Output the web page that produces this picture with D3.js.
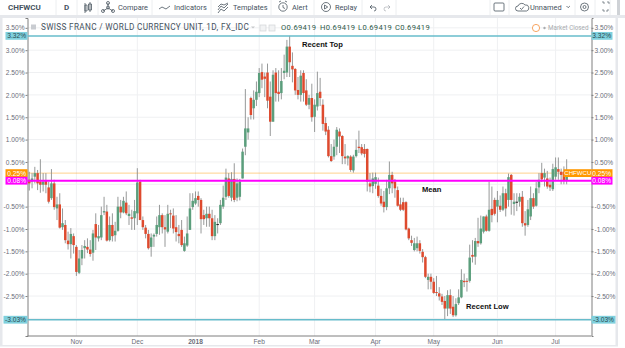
<!DOCTYPE html>
<html>
<head>
<meta charset="utf-8">
<script src="https://cdn.jsdelivr.net/npm/d3@7/dist/d3.min.js"></script>
<style>
html,body{margin:0;padding:0;background:#fff;overflow:hidden}
svg{display:block;font-family:Roboto,"Liberation Sans",sans-serif}
</style>
</head>
<body>
<svg id="chart" width="625" height="348"></svg>
<script>
// Daily candles, CHF against the World Currency Unit, % change scale
const open = [
 .10,.06,.17,.25,.06,-.01,.08,-.07,-.31,.02,
 -.54,-.45,-.96,-.91,-1.26,-1.34,-1.16,-1.40,-1.98,-1.66,
 -1.43,-1.40,-1.46,-1.53,-.89,-1.21,-1.19,-.63,-.61,-1.25,
 -.91,-1.14,-1.04,-.50,-.63,-.41,-.71,-.74,-.76,-.65,
 .06,-.80,-.97,-1.11,-1.40,-1.17,-1.11,-.96,-.69,-.96,
 -1.06,-.65,-.70,-.96,-1.11,-1.02,-1.49,-1.37,-1.02,-.51,
 -.43,-.26,-.35,-.69,-.76,-.66,-.76,-1.16,-.89,-.87,
 -.50,-.28,.13,-.30,.12,-.30,-.28,.13,.84,1.16,
 1.93,1.70,1.89,2.04,2.51,2.41,2.50,1.96,1.40,2.50,
 2.07,2.04,2.49,2.50,3.08,2.65,2.58,2.11,2.00,2.49,
 2.10,1.78,1.93,1.51,1.74,2.07,1.78,1.37,1.22,.63,
 .62,.84,1.18,1.08,.62,.58,.62,.31,.63,.84,
 .83,.79,.79,.02,-.04,.01,-.03,-.26,-.39,-.51,
 -.09,.21,.06,-.13,-.45,-.40,-.40,-.99,-1.25,-1.47,
 -1.43,-1.32,-1.51,-1.63,-2.14,-2.07,-2.18,-2.41,-2.44,-2.51,
 -2.61,-2.78,-2.48,-2.74,-2.93,-2.66,-2.53,-2.16,-2.16,-2.16,
 -1.58,-1.62,-1.27,-1.32,-1.06,-.72,-1.04,-.55,-.35,-.50,
 -.48,-.57,-.20,-.35,.21,-.44,-.39,-.39,-.28,-.87,
 -.91,-.72,-.31,-.48,-.07,.25,.15,.13,-.01,-.11,
 .17,.34,.28,.28,.08
];
const close = [
 .02,.13,.25,.02,-.01,.06,-.01,-.39,.02,-.51,
 -.45,-.97,-.87,-1.25,-1.34,-1.11,-1.36,-1.96,-1.66,-1.47,
 -1.38,-1.46,-1.56,-1.10,-1.19,-1.16,-.69,-.60,-1.26,-.91,
 -1.16,-1.04,-.50,-.63,-.37,-.65,-.66,-.77,-.60,.04,
 -.80,-.96,-1.11,-1.43,-1.19,-1.13,-.91,-.69,-.96,-1.01,
 -.66,-.67,-.99,-1.07,-1.16,-1.36,-1.32,-1.10,-.54,-.37,
 -.31,-.35,-.78,-.78,-.66,-.76,-1.16,-.84,-.90,-.46,
 -.30,.15,-.26,.12,-.35,.02,.06,.73,1.25,1.25,
 1.55,1.89,2.07,2.49,2.34,2.36,1.87,1.40,2.45,2.04,
 2.02,2.31,2.54,3.08,2.73,2.57,2.10,2.00,2.43,2.04,
 1.78,1.93,1.50,1.78,2.04,1.93,1.35,1.18,.63,.52,
 .84,1.22,1.07,.63,.58,.63,.32,.62,.77,.81,
 .69,.68,.06,-.05,.13,.16,-.26,-.43,-.51,-.09,
 .21,.02,-.09,-.48,-.57,-.57,-1.01,-1.21,-1.31,-1.32,
 -1.32,-1.49,-1.63,-2.07,-2.07,-2.18,-2.43,-2.43,-2.51,-2.63,
 -2.78,-2.48,-2.78,-2.93,-2.68,-2.53,-2.14,-2.19,-2.18,-1.64,
 -1.62,-1.27,-1.32,-.99,-.72,-1.04,-.57,-.69,-.66,-.35,
 -.57,-.20,-.54,.16,-.35,-.39,-.40,-.28,-.87,-.92,
 -.56,-.31,-.50,-.09,.10,.11,.25,-.05,-.07,.34,
 .38,.28,.21,.08,.25
];
const high = [
 .28,.25,.39,.32,.56,.25,.25,.06,.34,.10,
 -.28,-.20,-.54,-.80,-1.06,-.98,-1.10,-1.36,-1.47,-1.36,
 -1.25,-1.21,-1.25,-1.02,-.65,-.91,-.50,-.28,-.46,-.72,
 -.65,-.84,-.28,-.35,-.28,-.16,-.46,-.57,-.35,.36,
 .10,-.72,-.91,-1.02,-1.10,-1.10,-.72,-.46,-.65,-.69,
 -.46,-.57,-.54,-.69,-.91,-.80,-1.17,-.72,-.20,-.20,
 -.16,-.16,-.31,-.57,-.50,-.50,-.57,-.69,-.76,-.35,
 -.03,.35,.25,.27,.47,.13,.12,.80,2.13,1.50,
 1.96,2.10,2.30,2.60,2.70,2.50,2.70,2.30,2.55,2.60,
 2.55,2.60,2.90,3.23,3.32,2.95,2.60,2.40,2.55,2.55,
 2.35,2.00,2.25,1.90,2.52,2.38,1.90,1.50,1.30,.90,
 1.00,1.28,1.25,1.10,.90,.65,.65,.66,1.00,1.20,
 .90,.90,.80,.25,.26,.26,.15,-.10,-.15,.10,
 .51,.28,.12,-.05,-.30,-.30,-.38,-.97,-1.15,-1.20,
 -1.17,-1.25,-1.45,-1.60,-2.00,-2.00,-2.10,-2.05,-2.30,-2.45,
 -2.50,-2.37,-2.35,-2.50,-2.55,-2.35,-1.90,-2.00,-2.10,-1.35,
 -1.25,-1.20,-.75,-.70,-.72,-.68,.06,-.05,-.30,-.15,
 -.25,-.05,-.10,.24,.23,-.20,-.20,-.20,-.15,-.60,
 -.35,-.05,-.20,.05,.25,.48,.35,.30,.15,.46,
 .60,.60,.35,.40,.56
];
const low = [
 -.14,-.09,.02,-.13,-.19,-.16,-.20,-.43,-.35,-.57,
 -.80,-.99,-1.02,-1.32,-1.46,-1.66,-1.55,-2.05,-2.01,-1.81,
 -1.66,-1.54,-1.62,-1.71,-1.47,-1.28,-1.25,-.69,-1.28,-1.28,
 -1.28,-1.28,-1.06,-.76,-.65,-.69,-.91,-1.02,-1.02,-.91,
 -.80,-1.02,-1.21,-1.46,-1.62,-1.40,-1.17,-1.13,-1.10,-1.40,
 -1.10,-.98,-1.10,-1.28,-1.32,-1.40,-1.51,-1.40,-1.02,-.57,
 -.46,-.50,-1.10,-.91,-.95,-.95,-1.25,-1.25,-1.10,-.91,
 -.55,-.35,-.30,-.38,-.40,-.38,-.36,.13,.65,1.00,
 1.45,1.45,1.75,1.95,2.15,1.95,1.70,1.08,1.40,1.85,
 1.85,1.90,2.35,2.40,2.40,2.28,2.00,1.90,1.85,1.85,
 1.75,1.68,1.40,1.17,1.65,1.75,1.20,1.10,.60,.50,
 .55,.65,.70,.45,.45,.42,.28,.26,.60,.70,
 .65,.60,-.16,-.18,-.20,-.10,-.30,-.48,-.63,-.58,
 -.22,-.20,-.30,-.50,-.60,-.60,-1.03,-1.25,-1.38,-1.50,
 -1.50,-1.55,-1.75,-2.10,-2.35,-2.35,-2.45,-2.50,-2.60,-2.70,
 -3.03,-2.95,-2.90,-2.97,-2.96,-2.70,-2.55,-2.30,-2.40,-2.20,
 -1.75,-1.80,-1.40,-1.35,-1.10,-1.06,-1.06,-.85,-.70,-.85,
 -.62,-.60,-.72,-.50,-.68,-.70,-.60,-.50,-.95,-1.15,
 -.95,-.80,-.55,-.50,-.20,.05,-.05,-.10,-.15,-.15,
 .10,.10,.00,.00,.00
];

const firstDay = "2017-10-09", endDay = "2018-07-07";
const monthTicks = ["2017-11-01","2017-12-01","2018-01-01","2018-02-01","2018-03-01","2018-04-02","2018-05-01","2018-06-01","2018-07-02"];
const monthLabels = ["Nov","Dec","2018","Feb","Mar","Apr","May","Jun","Jul"];
const pctTicks = [3.5,3,2.5,2,1.5,1,.5,-.5,-1,-1.5,-2,-2.5];
const gridPct = [3.5,3,2.5,2,1.5,1,.5,0,-.5,-1,-1.5,-2,-2.5,-3];
const recentTop = 3.32, recentLow = -3.03, mean = 0.08;
const symbol = "CHFWCU";
const title = "SWISS FRANC / WORLD CURRENCY UNIT, 1D, FX_IDC";
const ohlcValue = "0.69419";

const fmtDay = d3.utcFormat("%Y-%m-%d");
const days = d3.utcDay.range(new Date(firstDay), new Date(endDay))
  .filter(d => d.getUTCDay() % 6 !== 0).map(fmtDay);
const candles = days.map((d, i) => ({d, o: open[i], c: close[i], h: high[i], l: low[i]}));
const last = close[close.length - 1];

const plot = {left: 27.5, right: 591.5, top: 18, bottom: 336};
const x = d3.scaleBand().domain(days).range([27.9, 568.05]);
const y = d3.scaleLinear().domain([-3.394, 3.72]).range([plot.bottom, plot.top]);
const pct = v => v.toFixed(2) + "%";
const cx = d => x(d) + x.bandwidth() / 2;

const svg = d3.select("#chart");
const UP = "#5b9e7c", DOWN = "#de4a2e", TEAL = "#67bccb", TEALBOX = "#7fd0dd",
      ORANGE = "#ff9800", MAGENTA = "#ff00ff", AXIS = "#7f7f7f", GRID = "#eff0f2", TICKTXT = "#6a6d78";

// window frame
svg.append("rect").attr("x",0).attr("y",15).attr("width",625).attr("height",3).attr("fill","#e6e8ec");
svg.append("rect").attr("x",0).attr("y",15).attr("width",2.5).attr("height",331).attr("fill","#e6e8ec");
svg.append("rect").attr("x",615.5).attr("y",15).attr("width",2.5).attr("height",331).attr("fill","#e6e8ec");
svg.append("rect").attr("x",0).attr("y",345).attr("width",618).attr("height",1.5).attr("fill","#e6e8ec");
svg.append("rect").attr("x",617).attr("y",0).attr("width",3).attr("height",15).attr("fill","#cfd2d6");

// grid
const gridY = svg.append("g").attr("stroke",GRID).attr("stroke-width",1);
gridY.selectAll("line").data(gridPct).join("line")
  .attr("x1",plot.left).attr("x2",plot.right).attr("y1",d=>y(d)).attr("y2",d=>y(d));
const gridX = svg.append("g").attr("stroke",GRID).attr("stroke-width",1);
gridX.selectAll("line").data(monthTicks).join("line")
  .attr("x1",cx).attr("x2",cx).attr("y1",plot.top).attr("y2",plot.bottom);

// axes
function styleAxis(g){
  g.selectAll(".domain").attr("stroke",AXIS).attr("stroke-width",1);
  g.selectAll(".tick line").attr("stroke",AXIS);
  g.selectAll("text").attr("fill",TICKTXT).attr("font-size",6.6).attr("font-family",'"Liberation Sans",sans-serif');
}
svg.append("g").attr("transform",`translate(${plot.left},0)`)
  .call(d3.axisLeft(y).tickValues(pctTicks).tickFormat(pct).tickSize(2).tickPadding(1)).call(styleAxis);
svg.append("g").attr("transform",`translate(${plot.right},0)`)
  .call(d3.axisRight(y).tickValues(pctTicks).tickFormat(pct).tickSize(2).tickPadding(1)).call(styleAxis);
const xAxis = svg.append("g").attr("transform",`translate(0,${plot.bottom})`)
  .call(d3.axisBottom(x).tickValues(monthTicks).tickFormat(d=>monthLabels[monthTicks.indexOf(d)]).tickSize(0).tickPadding(3))
  .call(styleAxis);
xAxis.selectAll(".domain").attr("d",`M${plot.left},0H${plot.right}`);
xAxis.selectAll("text").attr("font-weight",d=>d.startsWith("2018-01")?"bold":"normal");

// last price level beneath the candles
svg.append("line").attr("x1",plot.left).attr("x2",plot.right).attr("y1",y(last)).attr("y2",y(last))
  .attr("stroke",ORANGE).attr("stroke-opacity",.45).attr("stroke-width",1);

// candles
const cg = svg.append("g");
cg.selectAll("line").data(candles).join("line")
  .attr("x1",d=>cx(d.d)).attr("x2",d=>cx(d.d)).attr("y1",d=>y(d.h)).attr("y2",d=>y(d.l))
  .attr("stroke","#8b8d8d").attr("stroke-width",.9);
cg.selectAll("rect").data(candles).join("rect")
  .attr("x",d=>cx(d.d)-1.25).attr("width",2.5)
  .attr("y",d=>y(Math.max(d.o,d.c)))
  .attr("height",d=>Math.max(1,Math.abs(y(d.o)-y(d.c))))
  .attr("fill",d=>Math.abs(d.o-d.c)<.015?"#222":d.c>=d.o?UP:DOWN);

// horizontal studies
[[recentTop,TEAL,1.5],[recentLow,TEAL,1.3],[mean,MAGENTA,2]].forEach(([v,col,w])=>{
  svg.append("line").attr("x1",plot.left).attr("x2",plot.right).attr("y1",y(v)).attr("y2",y(v))
    .attr("stroke",col).attr("stroke-width",w);
});

// axis value tags
function tag(xr, v, bg, fg, w, side){
  const yy = y(v);
  svg.append("rect").attr("x",side<0?xr-w:xr).attr("y",yy-3.9).attr("width",w).attr("height",7.8).attr("fill",bg);
  svg.append("text").attr("x",side<0?xr-1.5:xr+w-1.5).attr("y",yy+2.4).attr("text-anchor","end")
    .attr("font-size",6.6).attr("font-family",'"Liberation Sans",sans-serif').attr("fill",fg).text(pct(v));
}
tag(plot.left,recentTop,TEALBOX,"#2b4a50",22,-1);
tag(plot.left,last,ORANGE,"#fff",22,-1);
tag(plot.left,mean,MAGENTA,"#fff",22,-1);
tag(plot.left,recentLow,TEALBOX,"#2b4a50",24,-1);
tag(plot.right,recentTop,TEALBOX,"#2b4a50",21,1);
tag(plot.right,last,ORANGE,"#fff",21,1);
tag(plot.right,mean,MAGENTA,"#fff",21,1);
tag(plot.right,recentLow,TEALBOX,"#2b4a50",24,1);
// symbol tag next to the last bar
svg.append("rect").attr("x",563.5).attr("y",y(last)-3.9).attr("width",28).attr("height",7.8).attr("fill",ORANGE);
svg.append("text").attr("x",564.3).attr("y",y(last)+2.3).attr("font-size",6.1)
  .attr("font-family",'"Liberation Sans",sans-serif').attr("fill","#fff").text(symbol);

// annotations
const note = (txt,xx,v)=>svg.append("text").attr("x",xx).attr("y",y(v)).attr("font-size",7.6)
  .attr("font-weight","bold").attr("font-family",'"Liberation Sans",sans-serif').attr("fill","#111").text(txt);
note("Recent Top",302,3.07);
note("Mean",422,-.18);
note("Recent Low",466,-2.79);

// toolbar
const TB="#46525e";
const tb=(t,xx,yy,size,opt={})=>svg.append("text").attr("x",xx).attr("y",yy).attr("font-size",size)
  .attr("fill",opt.fill||TB).attr("font-weight",opt.weight||"normal").attr("text-anchor",opt.anchor||"start")
  .attr("letter-spacing",opt.ls||0).text(t);
tb(symbol,8,10,8,{weight:"bold"});
tb("D",64,10,8,{weight:"bold"});
tb("Compare",118,9.5,7.4);
tb("Indicators",174,9.5,7.4);
tb("Templates",233,9.5,7.4);
tb("Alert",292,9.5,7.4);
tb("Replay",335,9.5,7.4);
tb("Unnamed",530,9.5,7.4);
svg.append("g").attr("stroke","#eceef0").selectAll("line")
  .data([56,77,98,152,211,271,314,362,396,490,509,575,595,610]).join("line")
  .attr("x1",d=>d).attr("x2",d=>d).attr("y1",0).attr("y2",15);

const ic=svg.append("g").attr("fill","none").attr("stroke","#4a5560").attr("stroke-width",.8);
ic.append("path").attr("d","M85 3v10M85.0 5h2v6h-2zM90 2v10M88.5 4h3v6h-3z");
ic.append("path").attr("d","M103 11l5-3 5 3M108 8V3");
ic.selectAll("circle.c").data([[103,11],[108,7.5],[113,11],[108,3]]).join("circle")
  .attr("cx",d=>d[0]).attr("cy",d=>d[1]).attr("r",1.5);
ic.append("path").attr("d","M159 9l3-2 4 2 4-3");
ic.append("path").attr("d","M218 10l3-4 3 2 4-4M218 13l3-4 3 2 4-4M218 7l3-3 3 1 4-2");
ic.append("circle").attr("cx",283).attr("cy",7).attr("r",4.2);
ic.append("path").attr("d","M283 5v2.5l2 1M279 2l2-1M287 2l-2-1");
ic.append("circle").attr("cx",326).attr("cy",7).attr("r",4.5);
ic.append("path").attr("d","M324.5 5l3.2 2-3.2 2z");
ic.append("path").attr("d","M370 7h4a2 2 0 0 1 0 4M370 7l2-2M370 7l2 2");
ic.append("path").attr("d","M390 7h-4a2 2 0 0 0 0 4M390 7l-2-2M390 7l-2 2").attr("opacity",.4);
ic.append("rect").attr("x",494).attr("y",3).attr("width",10).attr("height",8).attr("rx",1);
ic.append("path").attr("d","M518 11a2.5 2.5 0 0 1 0-5a4 4 0 0 1 7-1a3 3 0 0 1 1.5 6zM520 8l1.5 1.5l2.5-3");
ic.append("path").attr("d","M566.5 6l1.7 1.7l1.7-1.7");
ic.append("circle").attr("cx",584.5).attr("cy",7).attr("r",4);
ic.append("circle").attr("cx",584.5).attr("cy",7).attr("r",1.5);
ic.append("path").attr("d","M602 2h2v2M609 4V2h-2M602 10h2v2M609 10h-2v2").attr("opacity",.8);

// legend row
svg.append("rect").attr("x",31).attr("y",24.5).attr("width",5).attr("height",5).attr("fill","#c9ccd1");
tb(title,41,30,8.2,{ls:.33});
svg.append("path").attr("d","M251 26.5h4l-2 2z").attr("fill","#c5c7ca");
svg.append("g").attr("fill","#f2f3f4").attr("stroke","#d2d4d6").attr("stroke-width",.7)
  .selectAll("rect").data([260,269]).join("rect")
  .attr("x",d=>d).attr("y",25).attr("width",6).attr("height",6);
["O","H","L","C"].forEach((k,i)=>{
  const xx=[281,320,358,395][i];
  tb(k+ohlcValue,xx,30,7.6,{fill:"#2f5b4a",ls:.3});
});
svg.append("circle").attr("cx",536).attr("cy",28).attr("r",3.6).attr("fill","#fff").attr("stroke","#f58f3c").attr("stroke-width",.8);
svg.append("circle").attr("cx",544.5).attr("cy",28).attr("r",1.2).attr("fill","#a9acb0");
tb("Market Closed",548,30,6.3,{fill:"#a9acb0"});
</script>
</body>
</html>
